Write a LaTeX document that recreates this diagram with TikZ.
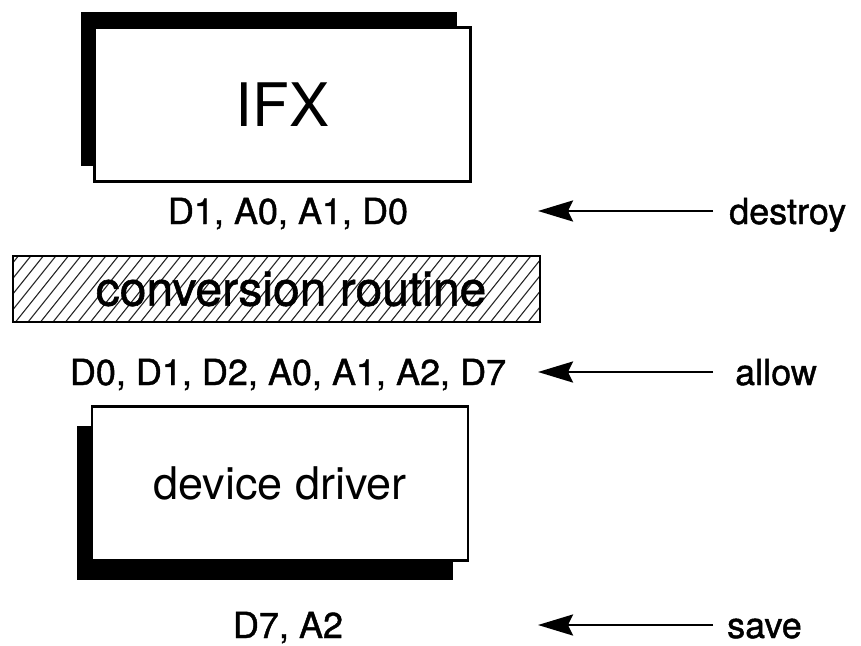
\documentclass[tikz,border=0pt]{standalone}
\usepackage{fontspec}
\setmainfont{TeX Gyre Heros}
\newfontfamily\heavyfont[FakeBold=1.2]{TeX Gyre Heros}
\usetikzlibrary{arrows.meta}
\usetikzlibrary{positioning}
\usetikzlibrary{shadows}

\begin{document}
\begin{tikzpicture}[x=1pt, y=-1pt,
unit/.style={draw, line width=2.5pt, fill=white, minimum width=376pt, minimum height=154pt, inner sep=0pt},
regs/.style={font=\heavyfont\fontsize{36}{40}\selectfont, text height=26pt, text depth=0pt, inner sep=0pt},
verb/.style={regs},
hatch/.style={line width=1.1pt, black!85},
regarrow/.style={line width=2.6pt, -{Stealth[length=35pt, width=21pt, inset=5pt]}}]

\useasboundingbox (0,0) rectangle (861,645);

\pgfmathsetmacro{\rowDestroy}{211}
\pgfmathsetmacro{\rowAllow}{372}
\pgfmathsetmacro{\rowSave}{625}
\pgfmathsetmacro{\tipX}{538}
\pgfmathsetmacro{\tailX}{713}
\pgfmathsetmacro{\listX}{288}

% BOXES
\node[unit, font=\fontsize{60}{66}\selectfont,
drop shadow={shadow xshift=-14pt, shadow yshift=16pt, fill=black, opacity=1}]
(ifx) at (282.5,104.5) {IFX};

\node[unit, font=\fontsize{45}{50}\selectfont,
drop shadow={shadow xshift=-15pt, shadow yshift=-19pt, fill=black, opacity=1}]
(driver) at (280,483.5) {device driver};

% hatched layer in between
\node[draw, line width=2.5pt, minimum width=527pt, minimum height=66pt, inner sep=0pt,
path picture={
    \foreach \k in {0,...,48}{
        \draw[hatch] ([xshift=\k*12.5pt-60pt]path picture bounding box.south west) -- ++(60,-75);
    }
}] (conv) at (276.5,289) {};
\node[font=\heavyfont\fontsize{48}{52}\selectfont, inner sep=0pt] (convtext) at (291,289) {conversion routine};

% register lists
\node[regs] (killed) at (\listX,\rowDestroy) {D1, A0, A1, D0};
\node[regs] (usable) at (\listX,\rowAllow) {D0, D1, D2, A0, A1, A2, D7};
\node[regs] (kept) at (\listX,\rowSave) {D7, A2};

% arrows from the right
\coordinate (tipD) at (\tipX,\rowDestroy);
\coordinate (tipA) at (\tipX,\rowAllow);
\coordinate (tipS) at (\tipX,\rowSave);
\coordinate (tailD) at (\tailX,\rowDestroy);
\coordinate (tailA) at (\tailX,\rowAllow);
\coordinate (tailS) at (\tailX,\rowSave);

\node[verb, right=16pt of tailD] (destroy) {destroy};
\node[verb, right=22pt of tailA] (allow) {allow};
\node[verb, right=14pt of tailS] (save) {save};

\draw[regarrow, shorten <=16pt] (destroy) -- (tipD);
\draw[regarrow, shorten <=22pt] (allow) -- (tipA);
\draw[regarrow, shorten <=14pt] (save) -- (tipS);

\end{tikzpicture}
\end{document}
